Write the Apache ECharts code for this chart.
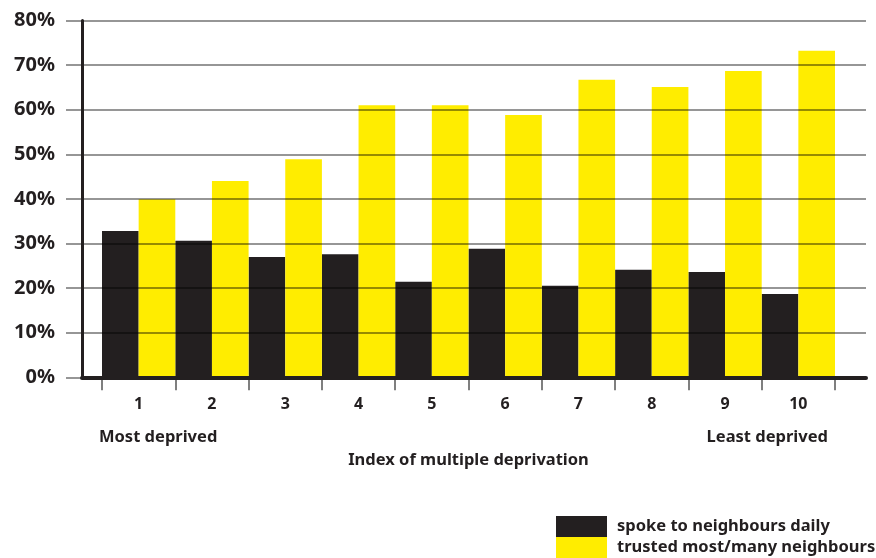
<!DOCTYPE html>
<html>
<head>
<meta charset="utf-8">
<script src="https://cdn.jsdelivr.net/npm/echarts@6/dist/echarts.min.js"></script>
<style>
  html, body { margin: 0; padding: 0; background: #ffffff; }
  #chart { width: 876px; height: 558px; }
</style>
</head>
<body>
<div id="chart"></div>
<script>
// Deprivation deciles, 1 = most deprived, 10 = least deprived
const categories = ['1', '2', '3', '4', '5', '6', '7', '8', '9', '10'];
const spokeDaily = [32.8, 30.6, 27.0, 27.6, 21.4, 28.8, 20.5, 24.1, 23.6, 18.7];
const trustedMany = [39.9, 44.0, 48.9, 61.0, 61.0, 58.8, 66.7, 65.1, 68.7, 73.2];
const yTicks = [0, 10, 20, 30, 40, 50, 60, 70, 80];
const seriesNames = ['spoke to neighbours daily', 'trusted most/many neighbours'];

const INK = '#231f20';
const YELLOW = '#ffed00';
const FONT = '"Noto Sans", "Open Sans", sans-serif';

const chart = echarts.init(document.getElementById('chart'), null, { renderer: 'canvas' });

const plotTop = 20.5, plotBottom = 180.7;
const yMin = yTicks[0], yMax = yTicks[yTicks.length - 1], yStep = yTicks[1] - yTicks[0];

chart.setOption({
  animation: false,
  backgroundColor: '#ffffff',
  textStyle: { fontFamily: FONT, color: INK },
  grid: [
    { left: 66, right: 10, top: plotTop, bottom: plotBottom },   // gridlines + tick labels
    { left: 82, right: 10, top: plotTop, bottom: plotBottom },   // axis frame
    { left: 102, right: 41, top: plotTop, bottom: plotBottom }   // bars
  ],
  xAxis: [
    { gridIndex: 0, type: 'value', show: false, min: 0, max: 1 },
    {
      gridIndex: 1, type: 'value', min: 0, max: 1, z: 4,
      axisLine: { show: true, lineStyle: { color: INK, width: 4 } },
      axisTick: { show: false }, axisLabel: { show: false }, splitLine: { show: false }
    },
    {
      gridIndex: 2, type: 'category', data: categories,
      boundaryGap: true,
      axisLine: { show: false },
      axisTick: { show: true, length: 13, alignWithLabel: false, lineStyle: { color: '#555555', width: 1.5 } },
      axisLabel: { margin: 19, fontSize: 16, fontWeight: 'bold', color: INK, fontFamily: FONT },
      name: 'Index of multiple deprivation',
      nameLocation: 'middle',
      nameGap: 74,
      nameTextStyle: { fontSize: 16.5, fontWeight: 'bold', color: INK, fontFamily: FONT }
    }
  ],
  yAxis: [
    {
      gridIndex: 0, type: 'value', min: yMin, max: yMax, interval: yStep, z: 3,
      axisLine: { show: false }, axisTick: { show: false },
      axisLabel: { margin: 11, fontSize: 20, fontWeight: 'bold', color: INK, fontFamily: FONT, formatter: '{value}%' },
      splitLine: { show: true, lineStyle: { color: 'rgba(0,0,0,0.55)', width: 1.6 } }
    },
    {
      gridIndex: 1, type: 'value', min: yMin, max: yMax, interval: yStep, z: 4,
      axisLine: { show: true, lineStyle: { color: INK, width: 3 } },
      axisTick: { show: false }, axisLabel: { show: false }, splitLine: { show: false }
    },
    { gridIndex: 2, type: 'value', min: yMin, max: yMax, show: false }
  ],
  legend: {
    orient: 'vertical',
    left: 551, top: 511, height: 60,
    itemWidth: 51, itemHeight: 21, itemGap: 0,
    icon: 'rect',
    data: seriesNames,
    textStyle: { fontSize: 16.5, fontWeight: 'bold', color: INK, fontFamily: FONT, padding: [0, 0, 0, 5], lineHeight: 21 }
  },
  graphic: [
    { type: 'text', left: 99, top: 429, style: { text: 'Most deprived', font: 'bold 16.5px ' + FONT, fill: INK } },
    { type: 'text', right: 48, top: 429, style: { text: 'Least deprived', font: 'bold 16.5px ' + FONT, fill: INK } }
  ],
  series: [
    {
      name: seriesNames[0], type: 'bar', xAxisIndex: 2, yAxisIndex: 2,
      data: spokeDaily, barGap: '0%', barCategoryGap: '0%',
      itemStyle: { color: INK }
    },
    {
      name: seriesNames[1], type: 'bar', xAxisIndex: 2, yAxisIndex: 2,
      data: trustedMany, barGap: '0%', barCategoryGap: '0%',
      itemStyle: { color: YELLOW }
    }
  ]
});
</script>
</body>
</html>
